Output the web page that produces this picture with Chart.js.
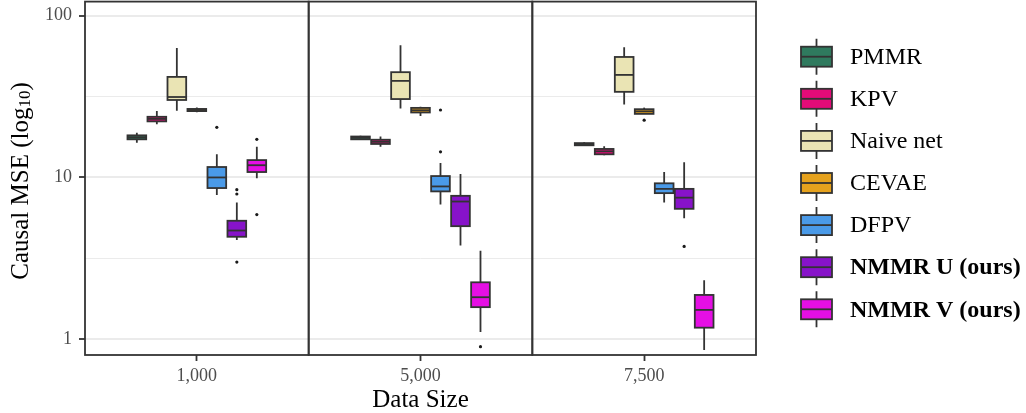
<!DOCTYPE html>
<html>
<head>
<meta charset="utf-8">
<script src="https://cdn.jsdelivr.net/npm/chart.js@4.4.1/dist/chart.umd.min.js"></script>
<style>
  html, body { margin: 0; padding: 0; background: #fff; }
  #wrap { position: relative; width: 1026px; height: 413px; }
</style>
</head>
<body>
<div id="wrap"><canvas id="chart"></canvas></div>
<script>
// facets (x categories) and tick labels
const SIZES = ['1,000', '5,000', '7,500'];
const Y_TICKS = [1, 3.1623, 10, 31.623, 100];
const Y_LABELS = { 1: '1', 10: '10', 100: '100' };

const METHODS = ['PMMR', 'KPV', 'Naive net', 'CEVAE', 'DFPV', 'NMMR U (ours)', 'NMMR V (ours)'];
const BOLD = [false, false, false, false, false, true, true];
const COLORS = ['#2f7a5e', '#e30b78', '#eae4b4', '#e6a21d', '#4a9ae8', '#8713c9', '#e50fe4'];

// box stats per data size: [lower whisker, q1, median, q3, upper whisker]
const PMMR  = [[16.4, 17.2, 17.7, 18.2, 18.9], [17.1, 17.2, 17.6, 17.9, 18.1], [15.7, 15.8, 16.1, 16.3, 16.5]];
const KPV   = [[21.3, 22.2, 23.0, 23.7, 25.7], [15.5, 16.1, 16.6, 17.1, 17.9], [13.7, 13.9, 14.5, 15.0, 15.6]];
const NAIVE = [[25.8, 30.1, 31.4, 41.8, 63.1], [26.7, 30.5, 39.5, 44.7, 65.6], [28.2, 33.8, 43.0, 55.5, 63.7]];
const CEVAE = [[25.3, 25.7, 26.1, 26.5, 27.0], [24.0, 25.2, 26.0, 26.9, 27.3], [24.7, 24.7, 25.6, 26.4, 27.0]];
const DFPV  = [[7.8, 8.6, 10.0, 11.6, 13.9], [6.8, 8.2, 8.8, 10.2, 12.3], [7.0, 8.0, 8.5, 9.2, 10.8]];
const NMMRU = [[4.1, 4.3, 4.7, 5.4, 7.0], [3.8, 5.0, 7.1, 7.7, 10.5], [5.6, 6.4, 7.5, 8.5, 12.4]];
const NMMRV = [[9.9, 10.8, 11.9, 12.8, 15.5], [1.11, 1.58, 1.82, 2.25, 3.52], [0.86, 1.18, 1.52, 1.88, 2.32]];

// outliers per data size
const PMMR_OUT  = [[], [], []];
const KPV_OUT   = [[], [], []];
const NAIVE_OUT = [[], [], []];
const CEVAE_OUT = [[], [], [22.6]];
const DFPV_OUT  = [[20.4], [26.1, 14.4], []];
const NMMRU_OUT = [[8.4, 7.9, 3.0], [], [3.75]];
const NMMRV_OUT = [[17.2, 5.9], [0.90], []];

const STATS = [PMMR, KPV, NAIVE, CEVAE, DFPV, NMMRU, NMMRV];
const OUTLIERS = [PMMR_OUT, KPV_OUT, NAIVE_OUT, CEVAE_OUT, DFPV_OUT, NMMRU_OUT, NMMRV_OUT];

const DODGE = 0.0894;   // spacing between boxes inside a facet (facet = 1 unit)
const HALF = 0.0418;    // half box width
const FONT = '"Liberation Serif", "DejaVu Serif", serif';
const LINE = '#333333';

const xPos = (facet, m) => facet + 0.5 + (m - 3) * DODGE;

// outlier points go through a normal scatter dataset
const outlierPoints = [];
OUTLIERS.forEach((list, m) => {
  list.forEach((vals, f) => vals.forEach(v => outlierPoints.push({ x: xPos(f, m), y: v })));
});

const boxPlugin = {
  id: 'boxes',
  beforeDatasetsDraw(chart) {
    const { ctx, scales: { x, y } } = chart;
    ctx.save();
    ctx.strokeStyle = LINE;
    ctx.lineWidth = 1.8;
    STATS.forEach((rows, m) => {
      rows.forEach((s, f) => {
        const cx = x.getPixelForValue(xPos(f, m));
        const l = x.getPixelForValue(xPos(f, m) - HALF);
        const r = x.getPixelForValue(xPos(f, m) + HALF);
        const [lo, q1, med, q3, hi] = s.map(v => y.getPixelForValue(v));
        // whiskers
        ctx.beginPath();
        ctx.moveTo(cx, hi); ctx.lineTo(cx, q3);
        ctx.moveTo(cx, q1); ctx.lineTo(cx, lo);
        ctx.stroke();
        // box
        ctx.fillStyle = COLORS[m];
        ctx.fillRect(l, q3, r - l, q1 - q3);
        ctx.strokeRect(l, q3, r - l, q1 - q3);
        // median
        ctx.beginPath();
        ctx.moveTo(l, med); ctx.lineTo(r, med);
        ctx.stroke();
      });
    });
    ctx.restore();
  },
  afterDraw(chart) {
    const { ctx, scales: { x }, chartArea: a } = chart;
    ctx.save();
    // panel borders
    ctx.strokeStyle = LINE;
    ctx.lineWidth = 1.8;
    SIZES.forEach((_, f) => {
      const l = x.getPixelForValue(f), r = x.getPixelForValue(f + 1);
      ctx.strokeRect(l, a.top, r - l, a.bottom - a.top);
    });

    // axis titles
    ctx.fillStyle = '#000';
    ctx.textAlign = 'center';
    ctx.textBaseline = 'middle';
    ctx.font = `25px ${FONT}`;
    ctx.fillText('Data Size', (a.left + a.right) / 2, 400);

    ctx.translate(21, 181);
    ctx.rotate(-Math.PI / 2);
    const main = 'Causal MSE (log', sub = '10', end = ')';
    ctx.font = `25px ${FONT}`;
    const w1 = ctx.measureText(main).width, w3 = ctx.measureText(end).width;
    ctx.font = `17px ${FONT}`;
    const w2 = ctx.measureText(sub).width;
    let tx = -(w1 + w2 + w3) / 2;
    ctx.textAlign = 'left';
    ctx.font = `25px ${FONT}`;
    ctx.fillText(main, tx, 0);
    ctx.font = `17px ${FONT}`;
    ctx.fillText(sub, tx + w1, 5);
    ctx.font = `25px ${FONT}`;
    ctx.fillText(end, tx + w1 + w2, 0);
    ctx.setTransform(1, 0, 0, 1, 0, 0);

    // legend
    METHODS.forEach((name, m) => {
      const cy = 56.7 + m * 42.1;
      ctx.strokeStyle = LINE;
      ctx.lineWidth = 1.8;
      ctx.beginPath();
      ctx.moveTo(816.5, cy - 18); ctx.lineTo(816.5, cy - 10);
      ctx.moveTo(816.5, cy + 10); ctx.lineTo(816.5, cy + 18);
      ctx.stroke();
      ctx.fillStyle = COLORS[m];
      ctx.fillRect(801, cy - 10, 31, 20);
      ctx.strokeRect(801, cy - 10, 31, 20);
      ctx.beginPath();
      ctx.moveTo(801, cy); ctx.lineTo(832, cy);
      ctx.stroke();
      ctx.fillStyle = '#000';
      ctx.textAlign = 'left';
      ctx.textBaseline = 'middle';
      ctx.font = `${BOLD[m] ? 'bold ' : ''}24px ${FONT}`;
      ctx.fillText(name, 850, cy + 1);
    });
    ctx.restore();
  }
};

new Chart(document.getElementById('chart'), {
  type: 'scatter',
  data: {
    datasets: [{
      label: 'outliers',
      data: outlierPoints,
      pointRadius: 1.6,
      pointHoverRadius: 1.6,
      backgroundColor: '#1a1a1a',
      borderWidth: 0
    }]
  },
  options: {
    responsive: true,
    maintainAspectRatio: false,
    animation: false,
    layout: { padding: { top: 1, right: 270, left: 0, bottom: 0 } },
    plugins: { legend: { display: false }, tooltip: { enabled: false } },
    scales: {
      x: {
        type: 'linear',
        min: 0,
        max: 3,
        afterBuildTicks: s => { s.ticks = SIZES.map((_, i) => ({ value: i + 0.5 })); },
        afterFit: s => { s.height = 58; s.paddingLeft = 0; s.paddingRight = 0; },
        border: { display: false },
        grid: { drawOnChartArea: false, drawTicks: true, tickLength: 6, tickColor: LINE, tickWidth: 1.8 },
        ticks: {
          padding: 4,
          color: '#4d4d4d',
          font: { family: FONT, size: 18 },
          callback: v => SIZES[Math.round(v - 0.5)]
        }
      },
      y: {
        type: 'logarithmic',
        min: 0.8,
        max: 122,
        afterBuildTicks: s => { s.ticks = Y_TICKS.map(v => ({ value: v })); },
        afterFit: s => { s.width = 85; s.paddingTop = 0; s.paddingBottom = 0; },
        border: { display: false },
        grid: {
          color: '#ebebeb',
          lineWidth: c => (c.tick && Y_LABELS[c.tick.value]) ? 2 : 1,
          tickLength: 6,
          tickWidth: 1.8,
          tickColor: c => (c.tick && Y_LABELS[c.tick.value]) ? LINE : 'rgba(0,0,0,0)'
        },
        ticks: {
          padding: 7,
          color: '#4d4d4d',
          font: { family: FONT, size: 18 },
          autoSkip: false,
          callback: v => Y_LABELS[v] || ''
        }
      }
    }
  },
  plugins: [boxPlugin]
});
</script>
</body>
</html>
